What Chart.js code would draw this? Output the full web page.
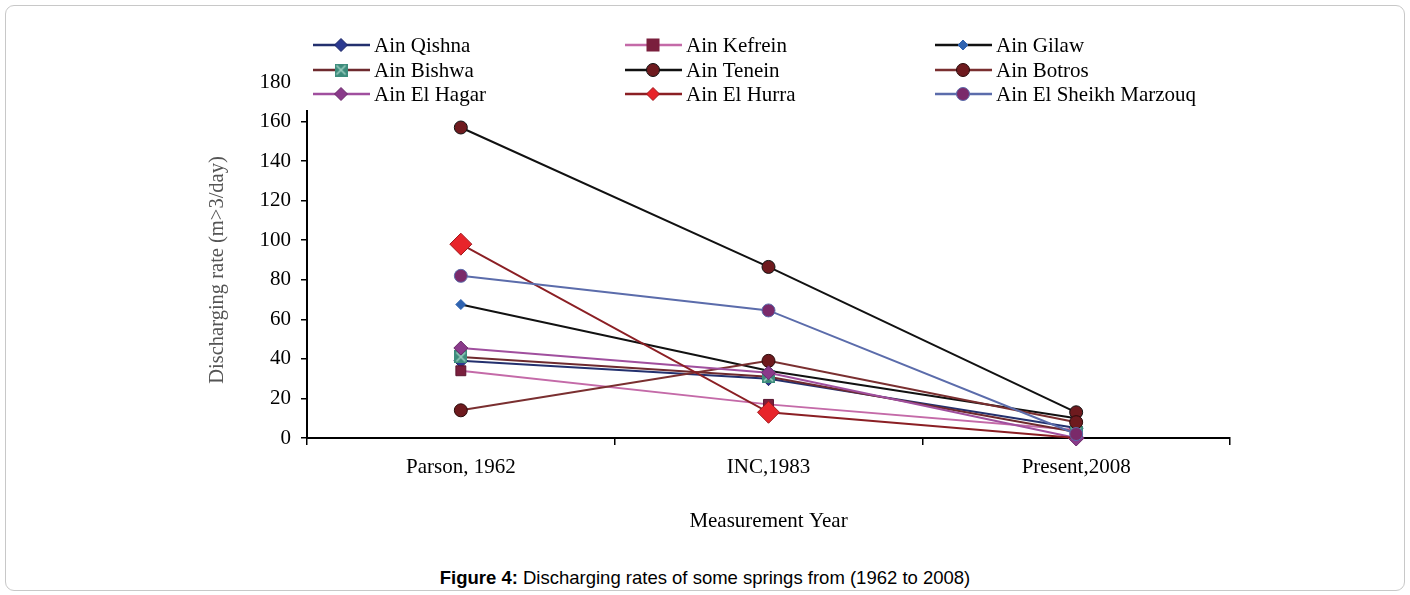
<!DOCTYPE html>
<html>
<head>
<meta charset="utf-8">
<script src="https://cdn.jsdelivr.net/npm/chart.js@4/dist/chart.umd.min.js"></script>
<style>
  html, body { margin: 0; padding: 0; background: #fff; }
  #wrap { position: relative; width: 1410px; height: 595px; overflow: hidden; }
  #frame { position: absolute; left: 5px; top: 5px; width: 1398px; height: 584px;
           border: 1px solid #c8c8c8; border-radius: 9px; }
  #box { position: absolute; left: 0; top: 0; width: 1410px; height: 560px; }
  #cap { position: absolute; left: 0; top: 567px; width: 1410px; text-align: center;
         font-family: "Liberation Sans", Arial, sans-serif; font-size: 18.5px; color: #000; }
</style>
</head>
<body>
<div id="wrap">
  <div id="frame"></div>
  <div id="box"><canvas id="chartCanvas"></canvas></div>
  <div id="cap"><b>Figure 4:</b> Discharging rates of some springs from (1962 to 2008)</div>
</div>
<script>
// --- data ---
const categories = ["Parson, 1962", "INC,1983", "Present,2008"];
const yTicks = [0, 20, 40, 60, 80, 100, 120, 140, 160, 180];

const ainQishna = [39, 30, 5];
const ainKefrein = [34, 17, 4];
const ainGilaw = [67.5, 34, 10];
const ainBishwa = [41, 31, 3];
const ainTenein = [157, 86.5, 13];
const ainBotros = [14, 39, 8];
const ainElHagar = [45.5, 33, 0];
const ainElHurra = [98, 13, 0];
const ainSheikhMarzouq = [82, 64.5, 2];

// square with a cross, used for Ain Bishwa
function crossSquare(size) {
  const c = document.createElement("canvas");
  c.width = size; c.height = size;
  const g = c.getContext("2d");
  g.fillStyle = "#3d8c7c";
  g.fillRect(0, 0, size, size);
  g.strokeStyle = "#9fd0c2";
  g.lineWidth = 1.5;
  g.beginPath();
  g.moveTo(2, 2); g.lineTo(size - 2, size - 2);
  g.moveTo(size - 2, 2); g.lineTo(2, size - 2);
  g.stroke();
  return c;
}
const bishwaMark = crossSquare(13);

// one entry per spring, in legend order (r = marker size per point)
const series = [
  { label: "Ain Qishna", data: ainQishna, line: "#23306e", fill: "#2b3990", border: "#1d2666", style: "rectRot", r: [7, 7, 7] },
  { label: "Ain Kefrein", data: ainKefrein, line: "#c46aa8", fill: "#7a1f3d", border: "#5a1530", style: "rect", r: [7, 7, 7] },
  { label: "Ain Gilaw", data: ainGilaw, line: "#111111", fill: "#2f63b0", border: "#2f63b0", style: "rectRot", r: [5, 5, 5] },
  { label: "Ain Bishwa", data: ainBishwa, line: "#6e2a2e", fill: "#3d8c7c", border: "#3d8c7c", style: bishwaMark, r: [7, 7, 7] },
  { label: "Ain Tenein", data: ainTenein, line: "#111111", fill: "#6e1a1e", border: "#111111", style: "circle", r: [6.5, 6.5, 6.5] },
  { label: "Ain Botros", data: ainBotros, line: "#7a2f30", fill: "#6e1a1e", border: "#2a0a0a", style: "circle", r: [6.5, 6.5, 6.5] },
  { label: "Ain El Hagar", data: ainElHagar, line: "#a04f9e", fill: "#8a3a8a", border: "#6a2a6a", style: "rectRot", r: [7, 7, 8] },
  { label: "Ain El Hurra", data: ainElHurra, line: "#8b1f24", fill: "#e8242a", border: "#a0181c", style: "rectRot", r: [11, 11, 0] },
  { label: "Ain El Sheikh Marzouq", data: ainSheikhMarzouq, line: "#5b6cab", fill: "#7a2a6a", border: "#5b6cab", style: "circle", r: [6.5, 6.5, 6.5] }
];

const serif = '"Liberation Serif", "Times New Roman", serif';

// --- legend drawn over the top of the plot, like the original ---
function drawMarker(ctx, s, x, y, r) {
  ctx.save();
  ctx.fillStyle = s.fill;
  ctx.strokeStyle = s.border;
  ctx.lineWidth = 1;
  if (typeof s.style !== "string") {
    ctx.drawImage(s.style, x - 6.5, y - 6.5, 13, 13);
  } else if (s.style === "circle") {
    ctx.beginPath(); ctx.arc(x, y, r, 0, Math.PI * 2); ctx.fill(); ctx.stroke();
  } else if (s.style === "rect") {
    ctx.fillRect(x - r, y - r, r * 2, r * 2);
  } else {
    ctx.beginPath();
    ctx.moveTo(x, y - r); ctx.lineTo(x + r, y); ctx.lineTo(x, y + r); ctx.lineTo(x - r, y);
    ctx.closePath(); ctx.fill(); ctx.stroke();
  }
  ctx.restore();
}

const gridLegend = {
  id: "gridLegend",
  afterDraw(chart) {
    const ctx = chart.ctx;
    const colX = [313, 625, 935];
    const rowY = [45, 70, 94];
    ctx.save();
    ctx.fillStyle = "#fff";
    ctx.fillRect(300, 30, 930, 80);
    series.forEach((s, i) => {
      const x0 = colX[i % 3];
      const y = rowY[Math.floor(i / 3)];
      ctx.strokeStyle = s.line;
      ctx.lineWidth = 2.5;
      ctx.beginPath(); ctx.moveTo(x0, y); ctx.lineTo(x0 + 57, y); ctx.stroke();
      drawMarker(ctx, s, x0 + 28, y, Math.min(s.r[0], 6.5));
      ctx.fillStyle = "#000";
      ctx.font = "21px " + serif;
      ctx.textBaseline = "middle";
      ctx.textAlign = "left";
      ctx.fillText(s.label, x0 + 61, y + 1);
    });
    // y axis title, placed as in the original
    ctx.translate(218, 270);
    ctx.rotate(-Math.PI / 2);
    ctx.fillStyle = "#555";
    ctx.font = "20.5px " + serif;
    ctx.textAlign = "center";
    ctx.textBaseline = "middle";
    ctx.fillText("Discharging rate (m>3/day)", 0, 0);
    ctx.restore();
  }
};

const tickFont = { family: serif, size: 21 };

new Chart(document.getElementById("chartCanvas"), {
  type: "line",
  data: {
    labels: categories,
    datasets: series.map((s, i) => ({
      label: s.label,
      data: s.data,
      order: series.length - i,
      clip: false,
      borderColor: s.line,
      borderWidth: 2,
      backgroundColor: s.fill,
      pointStyle: s.style,
      pointRadius: s.r,
      pointBackgroundColor: s.fill,
      pointBorderColor: s.border,
      pointBorderWidth: 1,
      tension: 0
    }))
  },
  options: {
    responsive: true,
    maintainAspectRatio: false,
    animation: false,
    layout: { padding: { left: 200, right: 180, top: 82, bottom: 22 } },
    plugins: {
      legend: { display: false },
      tooltip: { enabled: false }
    },
    scales: {
      x: {
        offset: true,
        afterFit(scale) { scale.height = 100; },
        grid: { display: true, drawOnChartArea: false, offset: true, color: "#000", lineWidth: 1.5, tickLength: 7 },
        border: { display: true, color: "#000", width: 2 },
        ticks: { color: "#000", font: tickFont, padding: 10 },
        title: { display: true, text: "Measurement Year", color: "#000", font: tickFont, padding: { top: 24 } }
      },
      y: {
        min: 0,
        max: 180,
        afterFit(scale) { scale.width = 107; },
        afterBuildTicks(scale) { scale.ticks = yTicks.map(v => ({ value: v })); },
        grid: { display: true, drawOnChartArea: false, color: "#000", lineWidth: 1.5, tickLength: 6 },
        border: { display: true, color: "#000", width: 2 },
        ticks: { color: "#000", font: tickFont, padding: 10 },
        title: { display: false }
      }
    }
  },
  plugins: [gridLegend]
});
</script>
</body>
</html>
